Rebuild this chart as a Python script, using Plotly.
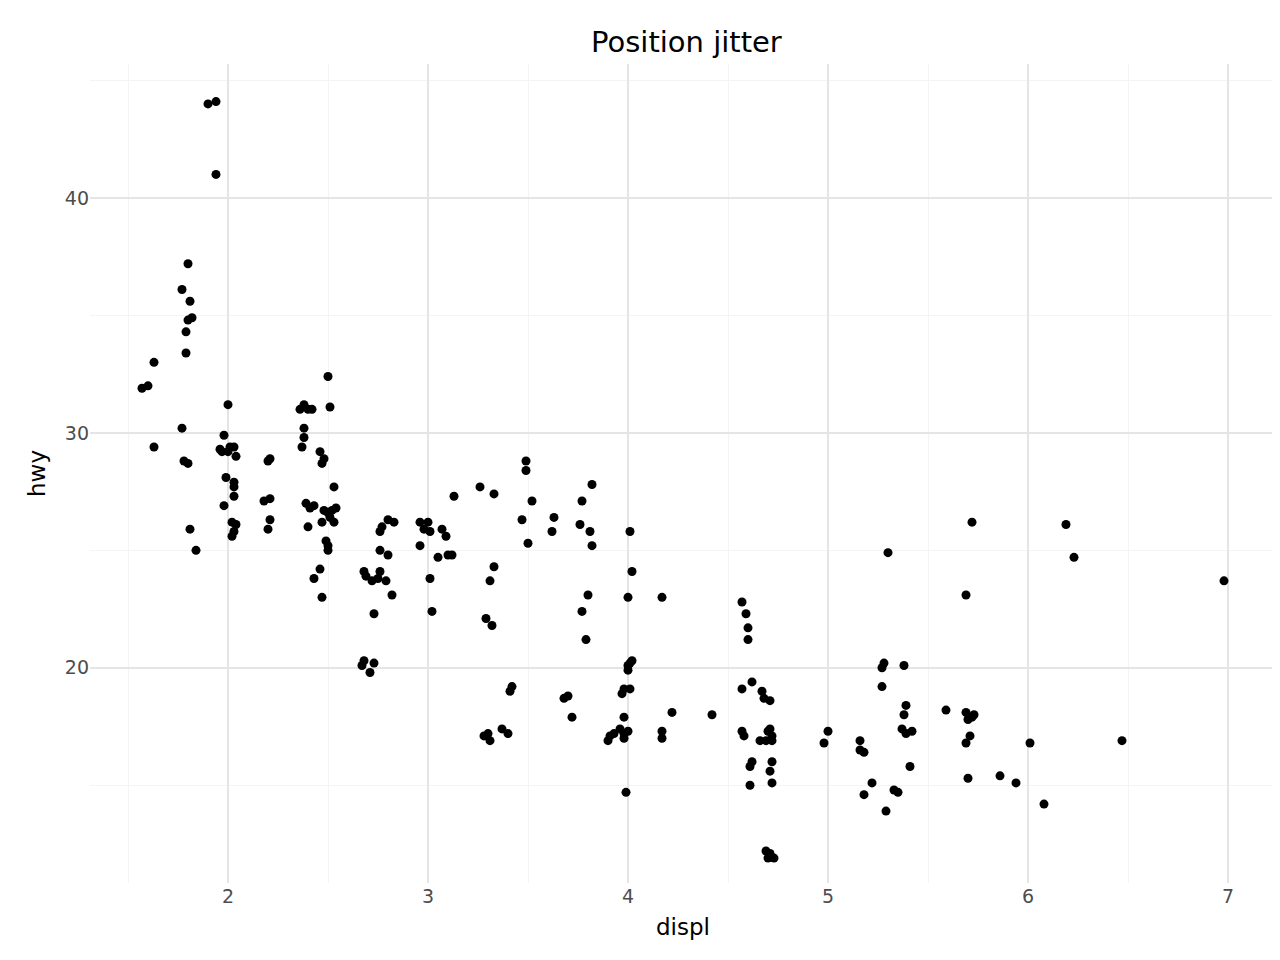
import plotly.graph_objects as go

# jittered displ / hwy values
displ = [1.57,1.6,1.63,1.63,1.77,1.77,1.78,1.79,1.79,1.8,1.8,1.81,1.82,1.8,1.81,1.84,1.9,1.94,1.94,
         1.96,1.98,1.98,1.99,2.0,2.0,2.01,2.02,2.02,2.03,2.03,2.03,2.03,2.04,2.03,2.04,1.97,
         2.18,2.2,2.21,2.21,2.2,2.21,
         2.36,2.37,2.38,2.38,2.38,2.4,2.39,2.4,2.41,2.42,2.43,2.43,2.46,2.47,2.48,2.46,2.47,2.47,2.48,2.49,2.5,2.5,2.51,2.5,2.51,2.52,2.53,2.53,2.54,2.5,
         2.67,2.68,2.68,2.69,2.71,2.72,2.73,2.73,2.75,2.76,2.76,2.76,2.77,2.79,2.8,2.8,2.82,2.83,
         2.96,2.96,2.98,3.0,3.01,3.01,3.02,3.05,3.07,3.09,3.1,3.12,3.13,
         3.26,3.28,3.29,3.3,3.31,3.31,3.32,3.33,3.33,3.37,3.4,3.41,3.42,3.47,3.49,3.49,3.5,3.52,
         3.62,3.63,3.68,3.7,3.72,3.76,3.77,3.77,3.79,3.8,3.81,3.82,3.82,
         3.9,3.91,3.93,3.96,3.97,3.98,3.98,3.98,3.98,3.99,4.0,4.0,4.0,4.01,4.01,4.01,4.02,4.02,4.0,
         4.17,4.17,4.17,4.22,4.42,
         4.57,4.57,4.57,4.58,4.59,4.6,4.6,4.61,4.61,4.62,4.62,4.66,4.67,4.68,4.69,4.69,4.7,4.71,4.71,4.7,4.71,4.71,4.72,4.72,4.73,4.72,4.72,
         4.98,5.0,5.16,5.16,5.18,5.18,5.22,5.27,5.27,5.28,5.29,5.3,5.33,5.35,5.37,5.38,5.38,5.39,5.39,5.41,5.42,
         5.59,5.69,5.69,5.69,5.7,5.7,5.71,5.72,5.72,5.73,5.86,5.94,6.01,6.08,6.19,6.23,6.47,6.98]
hwy = [31.9,32.0,33.0,29.4,36.1,30.2,28.8,34.3,33.4,34.8,37.2,35.6,34.9,28.7,25.9,25.0,44.0,44.1,41.0,
       29.3,29.9,26.9,28.1,31.2,29.2,29.4,26.2,25.6,25.8,27.7,27.9,29.4,29.0,27.3,26.1,29.2,
       27.1,28.8,28.9,26.3,25.9,27.2,
       31.0,29.4,30.2,29.8,31.2,31.0,27.0,26.0,26.8,31.0,26.9,23.8,29.2,28.7,28.9,24.2,23.0,26.2,26.7,25.4,25.2,25.0,26.4,32.4,31.1,26.7,27.7,26.2,26.8,26.6,
       20.1,20.3,24.1,23.9,19.8,23.7,22.3,20.2,23.8,24.1,25.0,25.8,26.0,23.7,24.8,26.3,23.1,26.2,
       26.2,25.2,25.9,26.2,25.8,23.8,22.4,24.7,25.9,25.6,24.8,24.8,27.3,
       27.7,17.1,22.1,17.2,23.7,16.9,21.8,27.4,24.3,17.4,17.2,19.0,19.2,26.3,28.8,28.4,25.3,27.1,
       25.8,26.4,18.7,18.8,17.9,26.1,27.1,22.4,21.2,23.1,25.8,25.2,27.8,
       16.9,17.1,17.2,17.4,18.9,19.1,17.9,17.0,17.2,14.7,19.9,23.0,20.1,19.1,25.8,20.2,20.3,24.1,17.3,
       23.0,17.0,17.3,18.1,18.0,
       22.8,19.1,17.3,17.1,22.3,21.7,21.2,15.0,15.8,16.0,19.4,16.9,19.0,18.7,16.9,12.2,11.9,12.1,17.4,17.3,15.6,18.6,17.1,16.0,11.9,15.1,16.9,
       16.8,17.3,16.5,16.9,16.4,14.6,15.1,19.2,20.0,20.2,13.9,24.9,14.8,14.7,17.4,20.1,18.0,18.4,17.2,15.8,17.3,
       18.2,16.8,18.1,23.1,17.8,15.3,17.1,17.9,26.2,18.0,15.4,15.1,16.8,14.2,26.1,24.7,16.9,23.7]

x_ticks = [2, 3, 4, 5, 6, 7]
y_ticks = [20, 30, 40]

fig = go.Figure(go.Scatter(x=displ, y=hwy, mode="markers",
                           marker=dict(color="black", size=9), hoverinfo="x+y"))

axis_common = dict(showgrid=True, gridcolor="#e5e5e5", gridwidth=1.8, zeroline=False,
                   showline=False, ticks="", tickfont=dict(size=19, color="#4d4d4d"))
fig.update_xaxes(range=[1.31, 7.24], tickvals=x_ticks,
                 minor=dict(tick0=1.5, dtick=1, showgrid=True, gridcolor="#f4f4f4", gridwidth=0.9),
                 title=dict(text="displ", font=dict(size=23, color="black"), standoff=12),
                 **axis_common)
fig.update_yaxes(range=[10.84, 45.7], tickvals=y_ticks,
                 minor=dict(tick0=15, dtick=10, showgrid=True, gridcolor="#f4f4f4", gridwidth=0.9),
                 title=dict(text="hwy", font=dict(size=23, color="black"), standoff=12),
                 **axis_common)
fig.update_layout(
    width=1280, height=960,
    title=dict(text="Position jitter", x=0.53, xanchor="center", y=0.975,
               font=dict(size=29, color="black")),
    font=dict(family="DejaVu Sans"),
    plot_bgcolor="white", paper_bgcolor="white",
    margin=dict(l=82, r=12, t=56, b=85),
    showlegend=False,
)
fig.write_html("out.html")
